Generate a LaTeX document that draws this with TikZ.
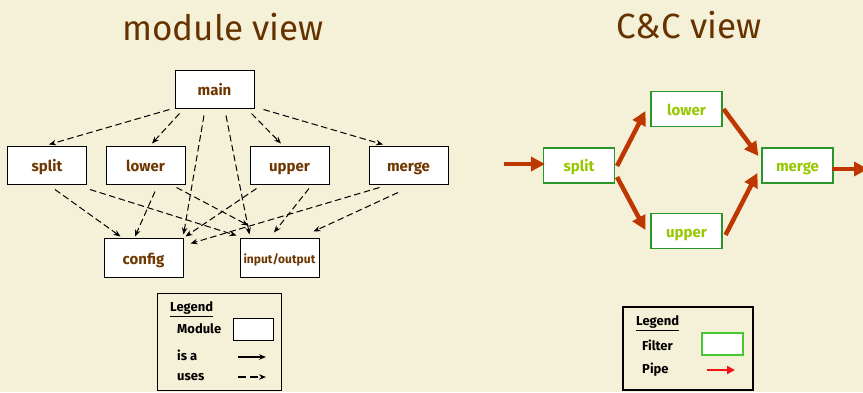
\documentclass[tikz,border=0pt]{standalone}
\usepackage{fontspec}
\setmainfont{Fira Sans}
\usetikzlibrary{arrows.meta}
\definecolor{bgc}{RGB}{245,240,216}
\definecolor{titlec}{RGB}{102,51,0}
\definecolor{modc}{RGB}{110,55,0}
\definecolor{fgreen}{RGB}{40,150,40}
\definecolor{ftext}{RGB}{150,200,0}
\definecolor{pipec}{RGB}{190,55,0}
\definecolor{lgreen}{RGB}{70,200,50}
\definecolor{lred}{RGB}{240,20,20}
\tikzset{
  title/.style={text=titlec, font=\fontsize{35}{40}\selectfont, anchor=base},
  module/.style={draw=black, line width=1pt, fill=white, minimum width=79pt, minimum height=38pt, inner sep=0pt, text height=15pt, text depth=2pt, text=modc, font=\fontsize{15}{17}\selectfont\bfseries},
  filter/.style={draw=fgreen, line width=1.1pt, fill=white, minimum width=71pt, minimum height=35pt, inner sep=0pt, text height=14pt, text depth=2pt, text=ftext, font=\fontsize{15}{17}\selectfont\bfseries},
  uses/.style={dashed, dash pattern=on 6.5pt off 3.5pt, line width=1pt, -{Stealth[length=7pt,width=5.5pt]}},
  isa/.style={line width=1.2pt, -{Stealth[length=7pt,width=5.5pt]}},
  pipe/.style={draw=pipec, line width=4.5pt, -{Triangle[length=14pt,width=14pt]}},
  legtext/.style={anchor=west, inner sep=0pt, text height=9pt, text depth=2pt, text=black, font=\fontsize{13}{15}\selectfont\bfseries},
}
\begin{document}
\begin{tikzpicture}[x=1pt, y=-1pt]
\useasboundingbox[fill=bgc] (0,0) rectangle (863,392);
% titles
\node[title] (t1) at (223,40) {module view};
\node[title] (t2) at (689,38) {C\&C view};
% module view
\node[module] (main) at (214.5,89) {main};
\node[module] (split) at (47,165) {split};
\node[module] (lower) at (145.5,165) {lower};
\node[module] (upper) at (289.5,165) {upper};
\node[module] (merge) at (408.5,165) {merge};
\node[module, minimum height=39pt] (config) at (143.5,257.5) {config};
\node[module, minimum height=39pt, text height=13pt, font=\fontsize{12}{14}\selectfont\bfseries] (io) at (279.5,257.5) {input/output};
\draw[uses] ([shift={(-5,1)}]main.south west) -- ([shift={(2,-1)}]split.north);
\draw[uses] ([shift={(5,5)}]main.south west) -- ([shift={(6.5,-2)}]lower.north);
\draw[uses] ([shift={(-10.5,7)}]main.south) -- ([shift={(0,-3)}]config.north east);
\draw[uses] ([shift={(11.5,7)}]main.south) -- ([shift={(10,-3)}]io.north west);
\draw[uses] ([shift={(-3,5)}]main.south east) -- ([shift={(-8.5,-2)}]upper.north);
\draw[uses] ([shift={(9,1)}]main.south east) -- ([shift={(-25.5,-1)}]merge.north);
\draw[uses] ([shift={(8,5)}]split.south) -- ([shift={(17,-1)}]config.north west);
\draw[uses] ([shift={(3,5)}]split.south east) -- ([shift={(-3,-2)}]io.north west);
\draw[uses] ([shift={(9.5,7)}]lower.south) -- ([shift={(-8.5,-1)}]config.north);
\draw[uses] ([shift={(-9,3)}]lower.south east) -- ([shift={(9,-12)}]io.north west);
\draw[uses] ([shift={(7,4)}]upper.south west) -- ([shift={(2,-1)}]config.north east);
\draw[uses] ([shift={(19.5,4)}]upper.south) -- ([shift={(-5.5,-5)}]io.north);
\draw[uses] ([shift={(11,3)}]merge.south west) -- ([shift={(7,6)}]config.north east);
\draw[uses] ([shift={(-10.5,8)}]merge.south) -- ([shift={(-6,-6)}]io.north east);
% module legend
\node[draw=black, line width=1pt, minimum width=124pt, minimum height=97pt, inner sep=0pt] (leg1) at (219,341.5) {};
\node[legtext] (l1h) at (170,308) {\underline{Legend}};
\node[legtext] (l1m) at (177,330) {Module};
\node[draw=black, line width=1pt, fill=white, minimum width=40pt, minimum height=22pt, inner sep=0pt] (l1box) at (253,329) {};
\node[legtext] (l1i) at (177,357) {is a};
\node[legtext] (l1u) at (177,377) {uses};
\coordinate (ia1) at (238,357);
\coordinate (ia2) at (266,357);
\coordinate (ua1) at (238,377);
\coordinate (ua2) at (266,377);
\draw[isa] (ia1) -- (ia2);
\draw[line width=1.2pt, dash pattern=on 8pt off 4pt, -{Stealth[length=7pt,width=5.5pt]}] (ua1) -- (ua2);
% C&C view
\node[filter] (csplit) at (579,165.5) {split};
\node[filter] (clower) at (686.5,109) {lower};
\node[filter] (cupper) at (686.5,231) {upper};
\node[filter] (cmerge) at (797.5,165.5) {merge};
\coordinate (pin) at (504,164);
\coordinate (pout) at (868,169);
\draw[pipe] (pin) -- ([shift={(2,-1.5)}]csplit.west);
\draw[pipe] ([shift={(2,0.5)}]csplit.east) -- ([shift={(-5,2)}]clower.west);
\draw[pipe] ([shift={(2,11.5)}]csplit.east) -- ([shift={(-5,-1)}]cupper.west);
\draw[pipe] ([shift={(1,0)}]clower.east) -- ([shift={(-3,-9.5)}]cmerge.west);
\draw[pipe] ([shift={(3,4)}]cupper.east) -- ([shift={(-4,7.5)}]cmerge.west);
\draw[pipe] ([shift={(-2,3.5)}]cmerge.east) -- (pout);
% C&C legend
\node[draw=black, line width=1.8pt, minimum width=130pt, minimum height=83pt, inner sep=0pt] (leg2) at (688,348.5) {};
\node[legtext] (l2h) at (636,322) {\underline{Legend}};
\node[legtext] (l2f) at (642,346.5) {Filter};
\node[draw=lgreen, line width=1.2pt, fill=white, minimum width=41pt, minimum height=22pt, inner sep=0pt] (l2box) at (722.5,344) {};
\node[legtext] (l2p) at (642,370) {Pipe};
\coordinate (pa1) at (707,370);
\coordinate (pa2) at (735,370);
\draw[draw=lred, line width=2.5pt, -{Triangle[length=8pt,width=8pt]}] (pa1) -- (pa2);
\end{tikzpicture}
\end{document}
